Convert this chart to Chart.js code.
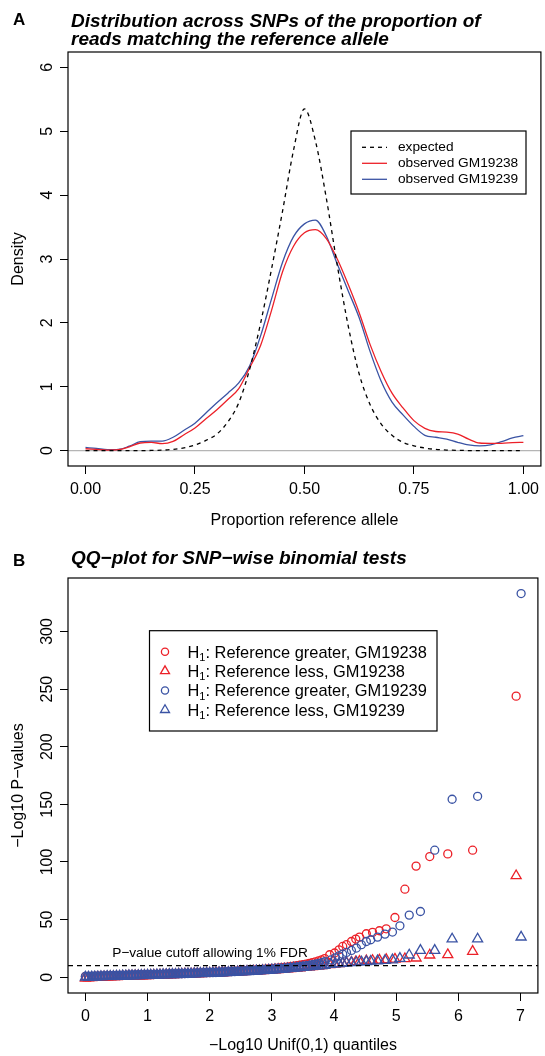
<!DOCTYPE html>
<html>
<head>
<meta charset="utf-8">
<script src="https://cdn.jsdelivr.net/npm/chart.js@4.4.1/dist/chart.umd.min.js"></script>
<style>
  body { margin: 0; background: #fff; }
  .panel { position: absolute; left: 0; }
</style>
</head>
<body>
<div class="panel" style="top:0"><canvas id="chartA" width="545" height="530"></canvas></div>
<div class="panel" style="top:530px"><canvas id="chartB" width="545" height="526"></canvas></div>
<script>
// ---- panel A: density of proportion of reads matching the reference allele
const propX = [0, 0.025, 0.05, 0.075, 0.1, 0.125, 0.15, 0.175, 0.2, 0.225, 0.25, 0.275, 0.3, 0.325,
  0.35, 0.375, 0.4, 0.425, 0.45, 0.475, 0.5, 0.525, 0.55, 0.575, 0.6, 0.625, 0.65, 0.675, 0.7,
  0.725, 0.75, 0.775, 0.8, 0.825, 0.85, 0.875, 0.9, 0.925, 0.95, 0.975, 1];
const expectedDens = [0, 0, 0, 0, 0, 0.001, 0.003, 0.008, 0.02, 0.045, 0.09, 0.16, 0.26, 0.45,
  0.75, 1.28, 2.0, 2.85, 3.75, 4.7, 5.35, 4.85, 3.95, 2.9, 1.95, 1.2, 0.72, 0.42, 0.24,
  0.13, 0.075, 0.04, 0.02, 0.01, 0.005, 0.002, 0, 0, 0, 0, 0];
const obs19238 = [0.03, 0.02, 0.01, 0.015, 0.06, 0.12, 0.13, 0.11, 0.145, 0.25, 0.355, 0.5, 0.64, 0.8,
  0.97, 1.3, 1.65, 2.2, 2.8, 3.2, 3.41, 3.46, 3.32, 3.0, 2.6, 2.16, 1.66, 1.24, 0.9,
  0.67, 0.47, 0.35, 0.3, 0.29, 0.26, 0.18, 0.12, 0.115, 0.115, 0.125, 0.13];
const obs19239 = [0.05, 0.035, 0.015, 0.02, 0.07, 0.14, 0.15, 0.15, 0.21, 0.32, 0.43, 0.59, 0.75, 0.9,
  1.06, 1.33, 1.8, 2.38, 2.95, 3.35, 3.55, 3.61, 3.36, 2.92, 2.5, 2.08, 1.55, 1.09, 0.76,
  0.56, 0.38, 0.24, 0.21, 0.18, 0.13, 0.09, 0.075, 0.09, 0.14, 0.2, 0.235];
const propTicks = [0, 0.25, 0.5, 0.75, 1];
const densTicks = [0, 1, 2, 3, 4, 5, 6];

// ---- panel B: QQ plot, expected quantiles and observed -log10 p per series
const qqRedX = [0, 0.05, 0.1, 0.15, 0.2, 0.25, 0.3, 0.35, 0.4, 0.45, 0.5, 0.55, 0.6, 0.65, 0.7, 0.75, 0.8, 0.85, 0.9, 0.95,
  1.0, 1.05, 1.1, 1.15, 1.2, 1.25, 1.3, 1.35, 1.4, 1.45, 1.5, 1.55, 1.6, 1.65, 1.7, 1.75, 1.8, 1.85, 1.9, 1.95,
  2.0, 2.05, 2.1, 2.15, 2.2, 2.25, 2.3, 2.35, 2.4, 2.45, 2.5, 2.55, 2.6, 2.65, 2.7, 2.75, 2.8, 2.85, 2.9, 2.95,
  3.0, 3.05, 3.1, 3.15, 3.2, 3.25, 3.3, 3.35, 3.4, 3.45, 3.5, 3.55, 3.6, 3.65, 3.7, 3.75, 3.8, 3.85,
  3.93, 4.01, 4.08, 4.14, 4.20, 4.28, 4.35, 4.41, 4.52, 4.62, 4.73, 4.84, 4.98, 5.14, 5.32, 5.54, 5.83, 6.23, 6.93];
const greater19238 = [0.6, 0.6, 0.7, 0.8, 0.9, 0.9, 1.0, 1.1, 1.2, 1.3, 1.4, 1.4, 1.5, 1.6, 1.7, 1.7, 1.8, 1.9, 2.0, 2.0,
  2.1, 2.2, 2.3, 2.4, 2.5, 2.5, 2.6, 2.7, 2.8, 2.9, 3.0, 3.1, 3.2, 3.3, 3.4, 3.5, 3.6, 3.7, 3.8, 3.9,
  4.0, 4.2, 4.3, 4.4, 4.5, 4.7, 4.8, 5.0, 5.1, 5.3, 5.4, 5.6, 5.7, 5.9, 6.1, 6.3, 6.5, 6.7, 6.9, 7.2,
  7.4, 7.7, 7.9, 8.2, 8.5, 8.8, 9.2, 9.6, 10.0, 10.4, 10.9, 11.4, 12.0, 12.6, 13.3, 14.1, 15.0, 16.2,
  19.5, 21.0, 23.8, 26.7, 28.2, 31.0, 33.1, 34.8, 37.7, 38.9, 40.3, 42.0, 51.8, 76.4, 96.4, 104.7, 107.0, 110.2, 243.9];
const less19238 = [-0.8, -0.6, -0.5, -0.3, -0.2, -0.1, 0.1, 0.2, 0.3, 0.4, 0.5, 0.6, 0.7, 0.8, 0.9, 1.0, 1.1, 1.2, 1.2, 1.3,
  1.4, 1.5, 1.6, 1.7, 1.8, 1.9, 2.0, 2.1, 2.2, 2.3, 2.4, 2.5, 2.6, 2.7, 2.8, 2.9, 3.0, 3.1, 3.2, 3.3,
  3.4, 3.5, 3.6, 3.7, 3.8, 3.9, 4.1, 4.2, 4.3, 4.5, 4.6, 4.7, 4.9, 5.0, 5.2, 5.3, 5.5, 5.7, 5.8, 6.0,
  6.2, 6.4, 6.6, 6.8, 7.0, 7.2, 7.4, 7.7, 7.9, 8.1, 8.4, 8.6, 8.9, 9.1, 9.4, 9.6, 9.9, 10.2,
  10.8, 11.3, 11.8, 12.2, 12.6, 13.0, 13.4, 13.7, 14.1, 14.5, 14.8, 15.2, 15.6, 16.0, 16.6, 19.2, 19.5, 22.4, 88.0];
const qqBlueX = [0, 0.05, 0.1, 0.15, 0.2, 0.25, 0.3, 0.35, 0.4, 0.45, 0.5, 0.55, 0.6, 0.65, 0.7, 0.75, 0.8, 0.85, 0.9, 0.95,
  1.0, 1.05, 1.1, 1.15, 1.2, 1.25, 1.3, 1.35, 1.4, 1.45, 1.5, 1.55, 1.6, 1.65, 1.7, 1.75, 1.8, 1.85, 1.9, 1.95,
  2.0, 2.05, 2.1, 2.15, 2.2, 2.25, 2.3, 2.35, 2.4, 2.45, 2.5, 2.55, 2.6, 2.65, 2.7, 2.75, 2.8, 2.85, 2.9, 2.95,
  3.0, 3.05, 3.1, 3.15, 3.2, 3.25, 3.3, 3.35, 3.4, 3.45, 3.5, 3.55, 3.6, 3.65, 3.7, 3.75, 3.8, 3.85,
  3.95, 4.02, 4.08, 4.14, 4.20, 4.28, 4.36, 4.44, 4.52, 4.59, 4.70, 4.82, 4.94, 5.06, 5.21, 5.39, 5.62, 5.90, 6.31, 7.01];
const greater19239 = [0.7, 0.8, 0.8, 0.9, 1.0, 1.0, 1.1, 1.2, 1.3, 1.3, 1.4, 1.5, 1.6, 1.6, 1.7, 1.8, 1.9, 1.9, 2.0, 2.1,
  2.2, 2.2, 2.3, 2.4, 2.5, 2.5, 2.6, 2.7, 2.8, 2.8, 2.9, 3.0, 3.1, 3.2, 3.3, 3.4, 3.5, 3.6, 3.7, 3.8,
  3.9, 4.0, 4.1, 4.2, 4.3, 4.4, 4.6, 4.7, 4.8, 5.0, 5.1, 5.2, 5.4, 5.5, 5.7, 5.9, 6.0, 6.2, 6.4, 6.6,
  6.8, 7.0, 7.2, 7.4, 7.7, 7.9, 8.2, 8.5, 8.8, 9.1, 9.5, 9.9, 10.3, 10.8, 11.3, 11.9, 12.6, 13.4,
  15.0, 16.8, 18.5, 20.0, 21.5, 23.2, 25.3, 28.2, 31.0, 32.5, 34.8, 37.4, 39.2, 44.6, 53.9, 57.0, 110.2, 154.4, 157.0, 332.9];
const less19239 = [0.0, 0.1, 0.2, 0.3, 0.4, 0.5, 0.6, 0.7, 0.8, 0.8, 0.9, 1.0, 1.1, 1.2, 1.3, 1.3, 1.4, 1.5, 1.6, 1.7,
  1.8, 1.8, 1.9, 2.0, 2.1, 2.2, 2.3, 2.4, 2.4, 2.5, 2.6, 2.7, 2.8, 2.9, 3.0, 3.1, 3.2, 3.3, 3.4, 3.5,
  3.6, 3.7, 3.8, 3.9, 4.0, 4.1, 4.2, 4.4, 4.5, 4.6, 4.8, 4.9, 5.0, 5.2, 5.3, 5.5, 5.6, 5.8, 6.0, 6.1,
  6.3, 6.5, 6.7, 6.9, 7.1, 7.3, 7.6, 7.8, 8.0, 8.3, 8.5, 8.8, 9.0, 9.3, 9.5, 9.8, 10.0, 10.3,
  11.0, 11.4, 11.7, 12.0, 12.3, 12.6, 12.9, 13.2, 13.5, 13.8, 14.1, 14.5, 15.0, 16.3, 19.2, 23.2, 23.2, 33.1, 33.1, 34.8];
const quantTicks = [0, 1, 2, 3, 4, 5, 6, 7];
const pvalTicks = [0, 50, 100, 150, 200, 250, 300];
const fdrCutoff = 10;

const RED = 'rgb(236,32,40)';
const BLUE = 'rgb(58,83,164)';
const FONT = '"Liberation Sans", Arial, Helvetica, sans-serif';

Chart.defaults.font.family = FONT;
Chart.defaults.font.size = 16;
Chart.defaults.color = '#000';
Chart.defaults.animation = false;

const pts = (xs, ys) => xs.map((x, i) => ({ x: x, y: ys[i] }));
const setTicks = vals => scale => { scale.ticks = vals.map(v => ({ value: v })); };

function axis(min, max, tickVals, extra) {
  return Object.assign({
    type: 'linear', min: min, max: max,
    afterBuildTicks: setTicks(tickVals),
    grid: { drawOnChartArea: false, drawTicks: true, tickLength: 8, color: '#000', lineWidth: 1 },
    border: { display: false }
  }, extra);
}

function drawBox(ctx, a) {
  ctx.strokeStyle = '#000';
  ctx.lineWidth = 1.2;
  ctx.strokeRect(a.left, a.top, a.right - a.left, a.bottom - a.top);
}

function drawTitle(ctx, letter, lines, letterY, y0) {
  ctx.fillStyle = '#000';
  ctx.textAlign = 'left';
  ctx.textBaseline = 'alphabetic';
  ctx.font = 'bold 17px ' + FONT;
  ctx.fillText(letter, 13, letterY);
  ctx.font = 'italic bold 19px ' + FONT;
  lines.forEach((t, i) => ctx.fillText(t, 71, y0 + i * 18.3));
}

const panelA = {
  id: 'panelA',
  beforeDatasetsDraw(chart) {
    const { ctx, chartArea: a, scales } = chart;
    const y0 = scales.y.getPixelForValue(0);
    ctx.save();
    ctx.strokeStyle = '#b5b5b5';
    ctx.lineWidth = 1.2;
    ctx.beginPath(); ctx.moveTo(a.left, y0); ctx.lineTo(a.right, y0); ctx.stroke();
    ctx.restore();
  },
  afterDraw(chart) {
    const { ctx, chartArea: a } = chart;
    ctx.save();
    drawBox(ctx, a);
    drawTitle(ctx, 'A', ['Distribution across SNPs of the proportion of',
      'reads matching the reference allele'], 25, 27);
    // legend
    ctx.lineWidth = 1.2;
    ctx.strokeRect(351, 131, 175, 63);
    const rows = [['expected', '#000', [4, 4]], ['observed GM19238', RED, []], ['observed GM19239', BLUE, []]];
    ctx.font = '13.7px ' + FONT;
    ctx.textBaseline = 'middle';
    rows.forEach((r, i) => {
      const y = 147.3 + i * 16;
      ctx.strokeStyle = r[1];
      ctx.setLineDash(r[2]);
      ctx.lineWidth = 1.3;
      ctx.beginPath(); ctx.moveTo(362, y); ctx.lineTo(387, y); ctx.stroke();
      ctx.setLineDash([]);
      ctx.fillStyle = '#000';
      ctx.fillText(r[0], 398, y);
    });
    ctx.restore();
  }
};

new Chart(document.getElementById('chartA'), {
  type: 'line',
  data: {
    datasets: [
      { label: 'expected', data: pts(propX, expectedDens), borderColor: '#000', borderDash: [4, 4] },
      { label: 'observed GM19238', data: pts(propX, obs19238), borderColor: RED },
      { label: 'observed GM19239', data: pts(propX, obs19239), borderColor: BLUE }
    ]
  },
  options: {
    responsive: false,
    devicePixelRatio: 1,
    layout: { padding: { top: 52, right: 1, left: 0, bottom: 0 } },
    elements: {
      line: { borderWidth: 1.3, fill: false, cubicInterpolationMode: 'monotone' },
      point: { radius: 0, hoverRadius: 0 }
    },
    plugins: { legend: { display: false }, tooltip: { enabled: false } },
    scales: {
      x: axis(-0.04, 1.04, propTicks, {
        afterFit: s => { s.height = 64; },
        ticks: { padding: 6, callback: v => v.toFixed(2) },
        title: { display: true, text: 'Proportion reference allele', font: { size: 16 }, color: '#000', padding: 0 }
      }),
      y: axis(-0.24, 6.24, densTicks, {
        afterFit: s => { s.width = 68; },
        ticks: { padding: 8, minRotation: 90, maxRotation: 90, crossAlign: 'center' },
        title: { display: true, text: 'Density', font: { size: 16 }, color: '#000', padding: { top: 9, bottom: 0 } }
      })
    }
  },
  plugins: [panelA]
});

const panelB = {
  id: 'panelB',
  afterDatasetsDraw(chart) {
    const { ctx, chartArea: a, scales } = chart;
    const yc = scales.y.getPixelForValue(fdrCutoff);
    ctx.save();
    ctx.strokeStyle = '#000';
    ctx.lineWidth = 1.2;
    ctx.setLineDash([5, 4]);
    ctx.beginPath(); ctx.moveTo(a.left, yc); ctx.lineTo(a.right, yc); ctx.stroke();
    ctx.setLineDash([]);
    ctx.fillStyle = '#000';
    ctx.font = '13.7px ' + FONT;
    ctx.textAlign = 'left';
    ctx.textBaseline = 'middle';
    ctx.fillText('P\u2212value cutoff allowing 1% FDR', scales.x.getPixelForValue(0.43), scales.y.getPixelForValue(21));
    ctx.restore();
  },
  afterDraw(chart) {
    const { ctx, chartArea: a } = chart;
    ctx.save();
    drawBox(ctx, a);
    drawTitle(ctx, 'B', ['QQ\u2212plot for SNP\u2212wise binomial tests'], 36, 34);
    // legend
    ctx.strokeStyle = '#000';
    ctx.lineWidth = 1.2;
    ctx.strokeRect(149.5, 100.7, 287.5, 100.3);
    const rows = [
      ['circle', RED, 'Reference greater, GM19238'],
      ['triangle', RED, 'Reference less, GM19238'],
      ['circle', BLUE, 'Reference greater, GM19239'],
      ['triangle', BLUE, 'Reference less, GM19239']
    ];
    rows.forEach((r, i) => {
      const y = 121.7 + i * 19.4;
      ctx.strokeStyle = r[1];
      ctx.fillStyle = 'rgba(0,0,0,0)';
      ctx.lineWidth = 1.3;
      Chart.helpers.drawPoint(ctx, { pointStyle: r[0], radius: r[0] === 'circle' ? 3.6 : 5.2, rotation: 0, borderWidth: 1.3 }, 165, y);
      ctx.fillStyle = '#000';
      ctx.textBaseline = 'alphabetic';
      ctx.font = '16.4px ' + FONT;
      const base = y + 5.8;
      ctx.fillText('H', 187.5, base);
      let x = 187.5 + ctx.measureText('H').width;
      ctx.font = '11px ' + FONT;
      ctx.fillText('1', x, base + 3.5);
      x += ctx.measureText('1').width;
      ctx.font = '16.4px ' + FONT;
      ctx.fillText(': ' + r[2], x, base);
    });
    ctx.restore();
  }
};

const qqSet = (label, xs, ys, color, style, order) => ({
  label: label,
  data: pts(xs, ys),
  pointStyle: style,
  pointRadius: style === 'circle' ? 4 : 5.8,
  pointBorderWidth: 1.3,
  borderColor: color,
  pointBorderColor: color,
  backgroundColor: 'rgba(0,0,0,0)',
  pointBackgroundColor: 'rgba(0,0,0,0)',
  order: order
});

new Chart(document.getElementById('chartB'), {
  type: 'scatter',
  data: {
    datasets: [
      qqSet('H1: Reference greater, GM19238', qqRedX, greater19238, RED, 'circle', 4),
      qqSet('H1: Reference less, GM19238', qqRedX, less19238, RED, 'triangle', 3),
      qqSet('H1: Reference greater, GM19239', qqBlueX, greater19239, BLUE, 'circle', 2),
      qqSet('H1: Reference less, GM19239', qqBlueX, less19239, BLUE, 'triangle', 1)
    ]
  },
  options: {
    responsive: false,
    devicePixelRatio: 1,
    layout: { padding: { top: 48, right: 1, left: 0, bottom: 0 } },
    plugins: { legend: { display: false }, tooltip: { enabled: false } },
    scales: {
      x: axis(-0.28, 7.28, quantTicks, {
        afterFit: s => { s.height = 63; },
        ticks: { padding: 6 },
        title: { display: true, text: '\u2212Log10 Unif(0,1) quantiles', font: { size: 16 }, color: '#000', padding: 1 }
      }),
      y: axis(-13.7, 346.4, pvalTicks, {
        afterFit: s => { s.width = 68; },
        ticks: { padding: -1, minRotation: 90, maxRotation: 90, crossAlign: 'center' },
        title: { display: true, text: '\u2212Log10 P\u2212values', font: { size: 16 }, color: '#000', padding: { top: 9, bottom: 0 } }
      })
    }
  },
  plugins: [panelB]
});
</script>
</body>
</html>
